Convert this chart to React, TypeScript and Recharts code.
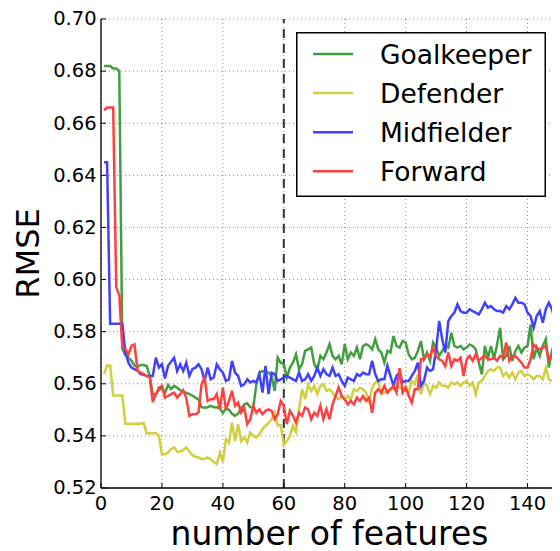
import React from 'react';
import { LineChart, Line, XAxis, YAxis, CartesianGrid, ReferenceLine, Legend, Label } from 'recharts';

const FONT = '"DejaVu Sans", sans-serif';

// feature counts 1..150 (category axis)
const featureCounts: number[] = Array.from({ length: 150 }, (_, i) => i + 1);

const goalkeeper = [
  0.682, 0.682, 0.682, 0.681, 0.681, 0.680, 0.5735, 0.571, 0.570, 0.5688,
  0.567, 0.5665, 0.5672, 0.5672, 0.5668, 0.5630, 0.5560, 0.5560, 0.5575, 0.5585,
  0.5565, 0.5595, 0.5580, 0.5592, 0.5585, 0.5575, 0.5570, 0.5565, 0.5560, 0.5555,
  0.5547, 0.5540, 0.5510, 0.5508, 0.5510, 0.5515, 0.5510, 0.5510, 0.5505, 0.5488,
  0.5505, 0.5500, 0.5485, 0.5477, 0.5485, 0.5505, 0.5520, 0.5525, 0.5510, 0.5509,
  0.5600, 0.5643, 0.5649, 0.5645, 0.5643, 0.5630, 0.5573, 0.5700, 0.5681, 0.5675,
  0.5624, 0.5662, 0.5681, 0.5713, 0.5656, 0.5675, 0.5726, 0.5732, 0.5739, 0.5675,
  0.5656, 0.5707, 0.5694, 0.5720, 0.5752, 0.5707, 0.5694, 0.5707, 0.5675, 0.5752,
  0.5694, 0.5720, 0.5707, 0.5739, 0.5694, 0.5745, 0.5752, 0.5745, 0.5732, 0.5771,
  0.5732, 0.5720, 0.5681, 0.5726, 0.5720, 0.5783, 0.5745, 0.5739, 0.5764, 0.5758,
  0.5713, 0.5694, 0.5700, 0.5726, 0.5764, 0.5694, 0.5720, 0.5688, 0.5758, 0.5739,
  0.5707, 0.5726, 0.5745, 0.5739, 0.5796, 0.5745, 0.5739, 0.5745, 0.5732, 0.5739,
  0.5751, 0.5745, 0.5732, 0.5681, 0.5636, 0.5745, 0.5700, 0.5745, 0.5694, 0.5751,
  0.5815, 0.5694, 0.5707, 0.5745, 0.5688, 0.5726, 0.5745, 0.5720, 0.5739, 0.5745,
  0.5828, 0.5694, 0.5739, 0.5707, 0.5745, 0.5771, 0.5662, 0.5726, 0.5764, 0.5758,
];

const defender = [
  0.5637, 0.567, 0.567, 0.5555, 0.5555, 0.5555, 0.5555, 0.5447, 0.5447, 0.5447,
  0.5447, 0.5447, 0.5447, 0.5450, 0.5410, 0.5410, 0.5410, 0.5410, 0.5400, 0.5330,
  0.5330, 0.5336, 0.5350, 0.5356, 0.5339, 0.5340, 0.5345, 0.5356, 0.5340, 0.5326,
  0.5320, 0.5317, 0.5311, 0.5311, 0.5317, 0.5310, 0.5300, 0.5292, 0.5336, 0.5300,
  0.5387, 0.5374, 0.5451, 0.5380, 0.5445, 0.5380, 0.5394, 0.5374, 0.5413, 0.5400,
  0.5394, 0.5407, 0.5426, 0.5439, 0.5450, 0.5464, 0.5490, 0.5441, 0.5441, 0.5365,
  0.5380, 0.5400, 0.5439, 0.5415, 0.5502, 0.5579, 0.5541, 0.5598, 0.5572, 0.5592,
  0.5560, 0.5592, 0.5598, 0.5572, 0.5579, 0.5566, 0.5547, 0.5541, 0.5553, 0.5541,
  0.5553, 0.5541, 0.5579, 0.5572, 0.5585, 0.5579, 0.5566, 0.5528, 0.5585, 0.5605,
  0.5611, 0.5560, 0.5566, 0.5572, 0.5580, 0.5579, 0.5598, 0.5585, 0.5579, 0.5590,
  0.5566, 0.5611, 0.5598, 0.5636, 0.5560, 0.5605, 0.5592, 0.5560, 0.5592, 0.5585,
  0.5605, 0.5592, 0.5592, 0.5585, 0.5605, 0.5598, 0.5605, 0.5592, 0.5605, 0.5611,
  0.5592, 0.5605, 0.5560, 0.5605, 0.5611, 0.5630, 0.5649, 0.5656, 0.5649, 0.5662,
  0.5662, 0.5630, 0.5643, 0.5624, 0.5643, 0.5617, 0.5643, 0.5649, 0.5630, 0.5636,
  0.5630, 0.5617, 0.5630, 0.5630, 0.5617, 0.5662, 0.5617, 0.5611, 0.5624, 0.5630,
];

const midfielder = [
  0.645, 0.645, 0.583, 0.583, 0.583, 0.583, 0.583, 0.5720, 0.5681, 0.5662,
  0.5656, 0.5650, 0.5637, 0.5635, 0.5630, 0.5630, 0.5630, 0.5700, 0.5662, 0.5675,
  0.5620, 0.5669, 0.5685, 0.5700, 0.5649, 0.5675, 0.5649, 0.5681, 0.5630, 0.5656,
  0.5662, 0.5675, 0.5656, 0.5611, 0.5662, 0.5617, 0.5624, 0.5675, 0.5656, 0.5643,
  0.5611, 0.5617, 0.5688, 0.5643, 0.5630, 0.5592, 0.5598, 0.5617, 0.5605, 0.5611,
  0.5605, 0.5637, 0.5566, 0.5669, 0.5560, 0.5643, 0.5637, 0.5611, 0.5617, 0.5624,
  0.5630, 0.5624, 0.5617, 0.5611, 0.5643, 0.5611, 0.5617, 0.5637, 0.5611, 0.5630,
  0.5662, 0.5630, 0.5656, 0.5637, 0.5630, 0.5662, 0.5630, 0.5637, 0.5611, 0.5592,
  0.5624, 0.5617, 0.5611, 0.5637, 0.5630, 0.5643, 0.5637, 0.5637, 0.5688, 0.5637,
  0.5611, 0.5617, 0.5617, 0.5669, 0.5630, 0.5592, 0.5630, 0.5643, 0.5605, 0.5611,
  0.5611, 0.5630, 0.5649, 0.5681, 0.5592, 0.5611, 0.5662, 0.5649, 0.5656, 0.5732,
  0.5841, 0.5771, 0.5720, 0.5841, 0.5860, 0.5873, 0.5905, 0.5879, 0.5873, 0.5873,
  0.5886, 0.5879, 0.5873, 0.5866, 0.5886, 0.5911, 0.5892, 0.5898, 0.5886, 0.5879,
  0.5879, 0.5873, 0.5898, 0.5886, 0.5905, 0.5930, 0.5911, 0.5911, 0.5905, 0.5873,
  0.5860, 0.5815, 0.5860, 0.5879, 0.5834, 0.5886, 0.5911, 0.5886, 0.5847, 0.5847,
];

const forward = [
  0.665, 0.666, 0.666, 0.666, 0.597, 0.594, 0.574, 0.5735, 0.5713, 0.5745,
  0.5751, 0.5650, 0.5643, 0.5637, 0.5630, 0.5624, 0.5530, 0.5560, 0.5585, 0.5592,
  0.5547, 0.5553, 0.5560, 0.5566, 0.5547, 0.5560, 0.5575, 0.5545, 0.5477, 0.5483,
  0.5483, 0.5490, 0.5598, 0.5624, 0.5534, 0.5541, 0.5541, 0.5560, 0.5502, 0.5585,
  0.5502, 0.5534, 0.5573, 0.5515, 0.5528, 0.5490, 0.5509, 0.5445, 0.5464, 0.5515,
  0.5489, 0.5502, 0.5483, 0.5496, 0.5502, 0.5496, 0.5464, 0.5483, 0.5534, 0.5515,
  0.5445, 0.5496, 0.5477, 0.5451, 0.5489, 0.5477, 0.5509, 0.5502, 0.5464, 0.5489,
  0.5477, 0.5515, 0.5464, 0.5502, 0.5464, 0.5521, 0.5553, 0.5586, 0.5553, 0.5540,
  0.5521, 0.5534, 0.5521, 0.5547, 0.5534, 0.5553, 0.5534, 0.5547, 0.5489, 0.5566,
  0.5579, 0.5566, 0.5592, 0.5566, 0.5579, 0.5592, 0.5566, 0.5660, 0.5566, 0.5585,
  0.5554, 0.5528, 0.5579, 0.5579, 0.5694, 0.5694, 0.5713, 0.5705, 0.5739, 0.5705,
  0.5694, 0.5688, 0.5668, 0.5720, 0.5668, 0.5694, 0.5688, 0.5700, 0.5630, 0.5694,
  0.5707, 0.5688, 0.5713, 0.5688, 0.5700, 0.5707, 0.5694, 0.5694, 0.5700, 0.5688,
  0.5707, 0.5700, 0.5758, 0.5688, 0.5707, 0.5707, 0.5694, 0.5681, 0.5662, 0.5662,
  0.5694, 0.5751, 0.5739, 0.5732, 0.5739, 0.5745, 0.5694, 0.5707, 0.5694, 0.5690,
];

const xTicks = [0, 20, 40, 60, 80, 100, 120, 140];
const yTicks = [0.52, 0.54, 0.56, 0.58, 0.6, 0.62, 0.64, 0.66, 0.68, 0.7];
const seriesNames = ['Goalkeeper', 'Defender', 'Midfielder', 'Forward'];
const seriesColors = ['#40a040', '#cfcf40', '#4040ff', '#ff4040'];
const cutoffFeatures = 60;

const rows = featureCounts.map((n, i) => ({
  n,
  Goalkeeper: goalkeeper[i],
  Defender: defender[i],
  Midfielder: midfielder[i],
  Forward: forward[i],
}));

const TICK_FS = 19.5;
const TICK_LEN = 5;

const LeftTick = (props: any) => {
  const { x, y, payload } = props;
  return (
    <g>
      <line x1={x} x2={x + TICK_LEN} y1={y} y2={y} stroke="#000" strokeWidth={1} />
      <text x={x - 4.4} y={y + 6.3} textAnchor="end" fontSize={TICK_FS} fontFamily={FONT} fill="#000">
        {Number(payload.value).toFixed(2)}
      </text>
    </g>
  );
};

const RightTick = (props: any) => {
  const { x, y } = props;
  return <line x1={x} x2={x - TICK_LEN} y1={y} y2={y} stroke="#000" strokeWidth={1} />;
};

const BottomTick = (props: any) => {
  const { x, y, payload } = props;
  return (
    <g>
      <line x1={x} x2={x} y1={y} y2={y - TICK_LEN} stroke="#000" strokeWidth={1} />
      <text x={x} y={y + 21.5} textAnchor="middle" fontSize={TICK_FS} fontFamily={FONT} fill="#000">
        {payload.value}
      </text>
    </g>
  );
};

const TopTick = (props: any) => {
  const { x, y } = props;
  return <line x1={x} x2={x} y1={y} y2={y + TICK_LEN} stroke="#000" strokeWidth={1} />;
};

const XLabel = (props: any) => {
  const vb = props.viewBox || { x: 93, y: 480, width: 457 };
  return (
    <text x={vb.x + vb.width / 2} y={vb.y + 56.5} textAnchor="middle" fontSize={33} fontFamily={FONT} fill="#000">
      number of features
    </text>
  );
};

const YLabel = (props: any) => {
  const vb = props.viewBox || { x: 0, y: 11, height: 469 };
  const cx = 30.5;
  const cy = vb.y + vb.height / 2;
  return (
    <text x={cx} y={cy} transform={`rotate(-90, ${cx}, ${cy})`} textAnchor="middle" fontSize={32} fontFamily={FONT} fill="#000">
      RMSE
    </text>
  );
};

const renderLegend = (props: any) => {
  const payload: any[] = props.payload || [];
  const items = seriesNames.map((name, i) => {
    const p = payload.find((q) => q.value === name || q.dataKey === name);
    return { name, color: p ? p.color : seriesColors[i] };
  });
  return (
    <svg width={250} height={165} style={{ display: 'block' }}>
      <rect x={0.75} y={0.75} width={248.5} height={163.5} fill="#fff" stroke="#000" strokeWidth={1.5} />
      {items.map((it, i) => {
        const cy = 22 + i * 39.1;
        return (
          <g key={it.name}>
            <line x1={17} x2={57} y1={cy} y2={cy} stroke={it.color} strokeWidth={2.5} />
            <text x={84} y={cy + 9.6} fontSize={26.5} fontFamily={FONT} fill="#000">
              {it.name}
            </text>
          </g>
        );
      })}
    </svg>
  );
};

export default function App() {
  return (
    <div style={{ width: 552, height: 543 }}>
      <LineChart width={552} height={543} data={rows} margin={{ top: 11, right: 2, bottom: 0, left: 0 }}>
        <CartesianGrid stroke="#000" strokeOpacity={0.45} strokeWidth={1} strokeDasharray="1 3" />
        <XAxis
          dataKey="n"
          type="number"
          domain={[0, 150]}
          ticks={xTicks}
          height={63}
          tickSize={0}
          tickMargin={0}
          tickLine={false}
          axisLine={{ stroke: '#000', strokeWidth: 1.3 }}
          tick={<BottomTick />}
          interval={0}
        >
          <Label content={<XLabel />} />
        </XAxis>
        <XAxis
          xAxisId="top"
          orientation="top"
          type="number"
          domain={[0, 150]}
          ticks={xTicks}
          height={0}
          tickSize={0}
          tickMargin={0}
          tickLine={false}
          axisLine={{ stroke: '#000', strokeWidth: 1.3 }}
          tick={<TopTick />}
          interval={0}
        />
        <YAxis
          type="number"
          domain={[0.52, 0.7]}
          ticks={yTicks}
          width={93}
          tickSize={0}
          tickMargin={0}
          tickLine={false}
          axisLine={{ stroke: '#000', strokeWidth: 1.3 }}
          tick={<LeftTick />}
          interval={0}
        >
          <Label content={<YLabel />} />
        </YAxis>
        <YAxis
          yAxisId="right"
          orientation="right"
          type="number"
          domain={[0.52, 0.7]}
          ticks={yTicks}
          width={0}
          tickSize={0}
          tickMargin={0}
          tickLine={false}
          axisLine={{ stroke: '#000', strokeWidth: 1.3 }}
          tick={<RightTick />}
          interval={0}
        />
        <ReferenceLine x={cutoffFeatures} stroke="#333" strokeWidth={2} strokeDasharray="9 6" />
        {seriesNames.map((name, i) => (
          <Line
            key={name}
            type="linear"
            dataKey={name}
            name={name}
            stroke={seriesColors[i]}
            strokeWidth={2.5}
            dot={false}
            activeDot={false}
            isAnimationActive={false}
          />
        ))}
        <Legend
          layout="vertical"
          align="center"
          verticalAlign="middle"
          content={renderLegend}
          wrapperStyle={{ left: 288, top: 24.3, width: 250, height: 165 }}
        />
      </LineChart>
    </div>
  );
}
